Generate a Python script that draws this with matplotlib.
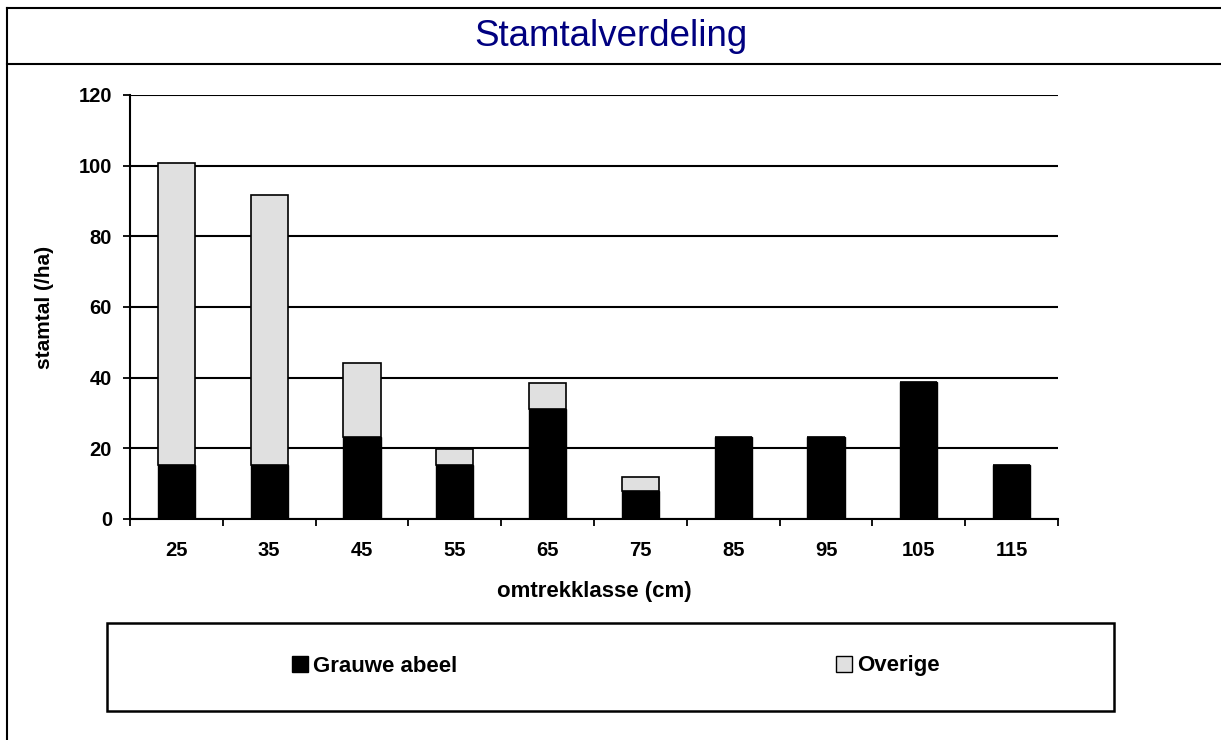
import matplotlib
matplotlib.use("Agg")
import matplotlib.pyplot as plt
from matplotlib.patches import Rectangle, Patch
from matplotlib.lines import Line2D
import numpy as np

plt.rcParams['font.family'] = ['Liberation Sans', 'DejaVu Sans']

categories = ['25', '35', '45', '55', '65', '75', '85', '95', '105', '115']
grauwe_abeel = [15.4, 15.4, 23.3, 15.4, 31.2, 8.0, 23.3, 23.3, 38.7, 15.4]
overige = [85.4, 76.4, 20.8, 4.4, 7.3, 4.0, 0, 0, 0, 0]
y_ticks = [0, 20, 40, 60, 80, 100, 120]

W, H = 1221, 740
fig = plt.figure(figsize=(W / 100, H / 100), dpi=100)

def fx(px):
    return px / W

def fy(py):
    return 1 - py / H

# frame lines (outer border and title separator)
fig.add_artist(Line2D([fx(7.5), fx(7.5)], [fy(8), 0], color='black', lw=1.5, transform=fig.transFigure))
fig.add_artist(Line2D([fx(7.5), 1], [fy(8), fy(8)], color='black', lw=1.5, transform=fig.transFigure))
fig.add_artist(Line2D([fx(7.5), 1], [fy(64), fy(64)], color='black', lw=1.5, transform=fig.transFigure))

fig.text(0.5, fy(36), 'Stamtalverdeling', ha='center', va='center',
         fontsize=26.5, color='#000080')

ax_l, ax_r, ax_t, ax_b = 130, 1058, 95, 519
ax = fig.add_axes([fx(ax_l), fy(ax_b), fx(ax_r - ax_l), (ax_b - ax_t) / H])

x = np.arange(len(categories))
b1 = ax.bar(x, grauwe_abeel, width=0.4, color='black', edgecolor='black',
            linewidth=1.0, label='Grauwe abeel', zorder=3)
b2 = ax.bar(x, overige, width=0.4, bottom=grauwe_abeel, color='#e0e0e0',
            edgecolor='black', linewidth=1.2, label='Overige', zorder=3)

ax.set_xlim(-0.5, len(categories) - 0.5)
ax.set_ylim(0, 120)
ax.set_yticks(y_ticks)
ax.set_yticklabels([str(v) for v in y_ticks], fontsize=14.5, fontweight='bold')
ax.yaxis.grid(True, color='black', lw=1.5, zorder=0)
ax.set_axisbelow(True)

ax.set_xticks(np.arange(-0.5, len(categories), 1.0))
ax.set_xticklabels([])
ax.set_xticks(x, minor=True)
ax.set_xticklabels(categories, minor=True, fontsize=14.5, fontweight='bold')
ax.tick_params(axis='x', which='major', direction='out', length=5, width=1.3)
ax.tick_params(axis='x', which='minor', length=0, pad=16)
ax.tick_params(axis='y', direction='out', length=5, width=1.3, pad=8)

for s in ['top', 'right']:
    ax.spines[s].set_visible(False)
for s in ['left', 'bottom']:
    ax.spines[s].set_linewidth(1.5)
    ax.spines[s].set_zorder(4)

ax.set_xlabel('omtrekklasse (cm)', fontsize=16, fontweight='bold', va='center')
ax.xaxis.set_label_coords(0.5, (ax_b - 592) / (ax_b - ax_t))
ax.set_ylabel('stamtal (/ha)', fontsize=15, fontweight='bold', va='center')
ax.yaxis.set_label_coords((45 - ax_l) / (ax_r - ax_l), 0.5)

# legend box
fig.add_artist(Rectangle((fx(107), fy(711)), fx(1114 - 107), (711 - 623) / H,
                         transform=fig.transFigure, fill=False, edgecolor='black', lw=1.8))

h1 = Patch(facecolor='black', edgecolor='black', label='Grauwe abeel')
h2 = Patch(facecolor='#e0e0e0', edgecolor='black', label='Overige')
leg1 = fig.legend(handles=[h1], loc='center left', bbox_to_anchor=(fx(272), fy(666)),
                  frameon=False, prop={'weight': 'bold', 'size': 16},
                  handlelength=0.7, handleheight=0.7, handletextpad=0.25)
leg2 = fig.legend(handles=[h2], loc='center left', bbox_to_anchor=(fx(816), fy(666)),
                  frameon=False, prop={'weight': 'bold', 'size': 16},
                  handlelength=0.7, handleheight=0.7, handletextpad=0.25)

fig.savefig('out.png', dpi=100)
